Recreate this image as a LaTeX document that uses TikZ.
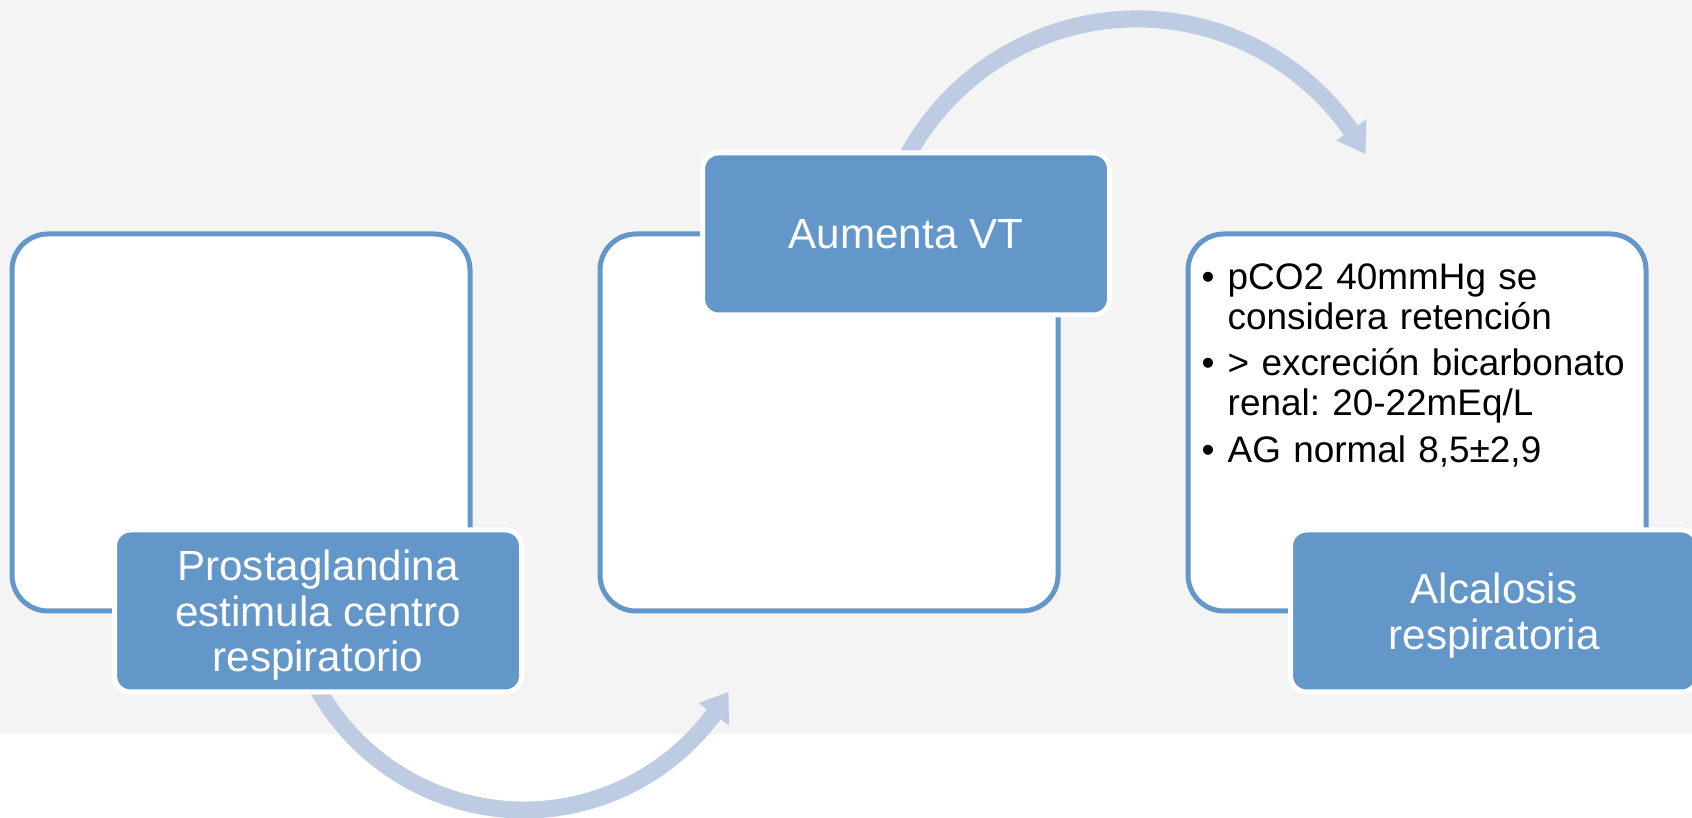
\documentclass[tikz,border=0pt]{standalone}
\usepackage{fontspec}
\setmainfont{Liberation Sans}
\usetikzlibrary{calc,positioning}
\definecolor{boxblue}{RGB}{99,150,201}
\definecolor{arcblue}{RGB}{189,204,226}
\definecolor{backgray}{RGB}{244,244,244}
\tikzset{
  panel/.style={draw=boxblue, line width=0.05cm, fill=white, rounded corners=0.36cm,
    minimum width=4.58cm, minimum height=3.77cm, inner sep=0pt, outer sep=0pt},
  caption/.style={draw=white, line width=0.05cm, fill=boxblue, rounded corners=0.16cm,
    minimum width=4.07cm, minimum height=1.62cm, inner sep=0pt, text=white,
    align=center, font=\fontsize{12}{12.95}\selectfont},
  flowarc/.style={draw=arcblue, line width=0.17cm},
  flowhead/.style={fill=arcblue}
}
\newcommand{\notebullet}{\makebox[0.26cm][l]{\textbullet}}
\newcommand{\notehang}{\hspace*{0.26cm}}

\begin{document}
\begin{tikzpicture}
		%%%%% START %%%%%
		\useasboundingbox (0,0) rectangle (16.92,8.18);
		\fill[backgray] (0,0.84) rectangle (16.92,8.18);
		
		% circular arrows
		\coordinate (bend1) at (5.24,2.44);
		\coordinate (bend2) at (11.37,5.38);
		\draw[flowarc] ($(bend1)+(205:2.36)$) arc (205:323.5:2.36);
		\fill[flowhead] ($(bend1)+(323.5:2.17)$) -- ($(bend1)+(323.5:2.55)$) -- ($(bend1)+(330:2.36)$) -- cycle;
		\draw[flowarc] ($(bend2)+(160:2.61)$) arc (160:35:2.61);
		\fill[flowhead] ($(bend2)+(35:2.43)$) -- ($(bend2)+(35:2.80)$) -- ($(bend2)+(28.9:2.61)$) -- cycle;
		
		% panels
		\node[panel] (box1) at (2.41,3.955) {};
		\node[panel, right=1.3cm of box1] (box2) {};
		\node[panel, right=1.3cm of box2] (box3) {};
		
		% captions
		\node[caption, text depth=0pt] (prost) at ($(box1.south)+(0.77,0)$) {Prostaglandina\\estimula centro\\respiratorio};
		\node[caption] (vt) at ($(box2.north)+(0.77,0)$) {Aumenta VT};
		\node[caption, text depth=0pt] (alca) at ($(box3.south)+(0.77,0)$) {Alcalosis\\respiratoria};
		
		\node[anchor=north west, inner sep=0pt, text width=4.4cm,
		  font=\fontsize{10.5}{11.38}\selectfont] (notes) at (12.01,5.55) {%
		  \parindent=0pt\parskip=0pt\frenchspacing
		  \notebullet pCO2 40mmHg se\par
		  \notehang considera retención\par\vspace{1.85pt}
		  \notebullet > excreción bicarbonato\par
		  \notehang renal: 20-22mEq/L\par\vspace{1.85pt}
		  \notebullet AG normal 8,5±2,9\par};
		%%%%% END %%%%%
\end{tikzpicture}
\end{document}
